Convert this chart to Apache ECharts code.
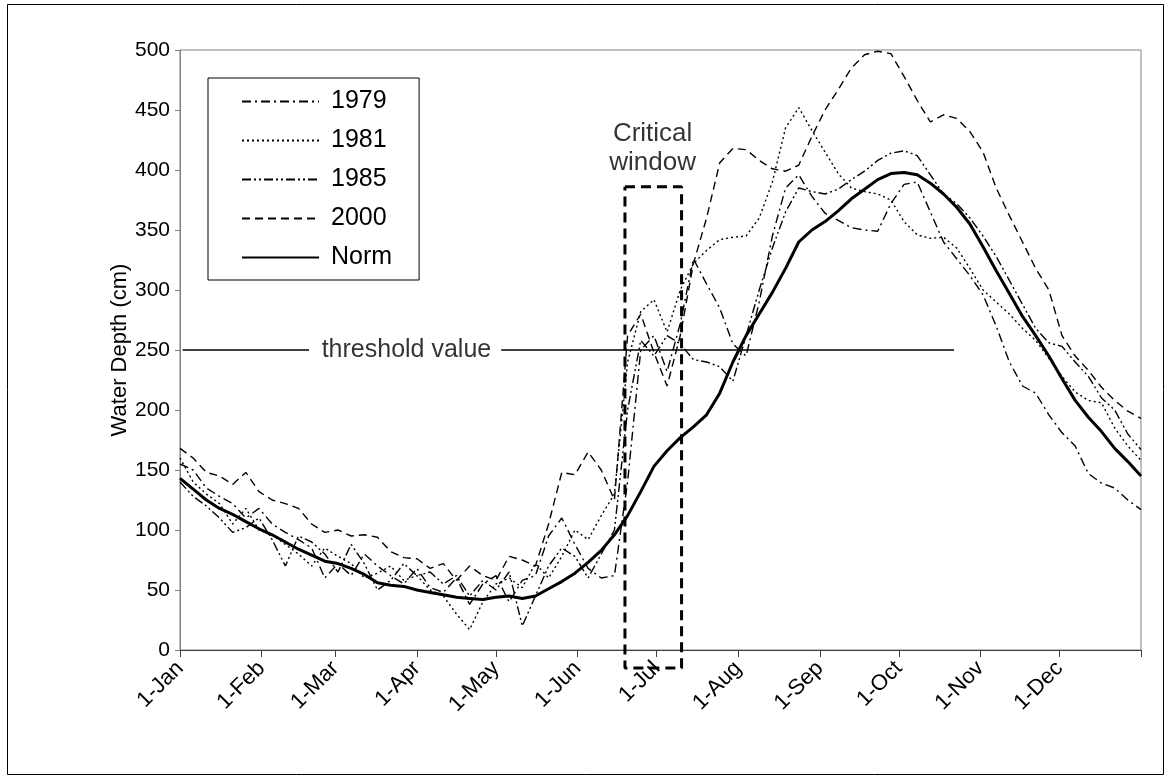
<!DOCTYPE html>
<html>
<head>
<meta charset="utf-8">
<title>Water Depth</title>
<script src="https://cdn.jsdelivr.net/npm/echarts@6/dist/echarts.min.js"></script>
<style>
  html, body { margin: 0; padding: 0; background: #fff; }
  #main { width: 1171px; height: 780px; }
</style>
</head>
<body>
<div id="main"></div>
<script type="text/javascript">
// day of year (0 = 1 Jan), every 5 days
var days = [0,5,10,15,20,25,30,35,40,45,50,55,60,65,70,75,80,85,90,95,100,105,110,115,120,125,130,135,140,145,150,155,160,165,170,175,180,185,190,195,200,205,210,215,220,225,230,235,240,245,250,255,260,265,270,275,280,285,290,295,300,305,310,315,320,325,330,335,340,345,350,355,360,365];

// water depth (cm)
var depth1979 = [155,150,135,128,122,110,118,105,98,92,85,60,72,62,80,70,62,55,68,52,48,60,38,55,62,40,58,62,95,110,88,68,60,62,140,250,262,232,272,326,305,285,255,245,290,345,385,396,378,364,358,352,350,349,372,388,390,365,340,326,312,296,270,240,220,214,196,181,170,147,139,135,125,117];
var depth1981 = [160,140,130,122,105,118,100,96,88,80,70,85,78,72,60,64,70,58,62,50,45,30,17,40,55,60,52,72,60,78,100,92,112,130,240,282,292,265,300,322,333,342,344,345,360,390,435,452,433,415,397,385,382,380,375,357,346,343,344,335,318,300,290,280,268,258,243,228,215,208,206,185,170,158];
var depth1985 = [140,128,120,110,98,102,110,92,70,95,90,80,65,88,72,50,58,72,62,65,55,62,45,58,50,65,20,45,70,85,78,60,80,100,200,258,245,262,255,242,240,236,224,262,300,335,365,385,382,380,384,392,399,408,414,416,412,396,380,372,360,345,328,308,288,268,256,253,240,228,210,200,180,167];
var depth2000 = [168,160,148,145,138,148,132,125,122,118,105,98,100,95,96,94,82,77,76,68,72,58,70,62,58,78,75,70,105,148,146,165,150,125,262,280,248,220,262,322,360,406,418,417,408,401,399,404,428,450,467,485,496,499,497,478,458,440,446,443,432,415,385,362,340,318,300,262,245,233,219,208,199,193];
var depthNorm = [143,134,125,118,113,107,101,96,90,84,79,74,72,68,63,56,54,53,50,48,46,44,43,42,44,45,43,45,51,57,64,73,83,96,112,132,153,166,177,186,196,214,240,262,280,298,318,340,350,357,366,376,384,392,397,398,396,389,380,369,355,336,316,297,278,262,245,226,208,194,182,168,157,145];

// month starts for the x axis
var monthStarts = [0,31,59,90,120,151,181,212,243,273,304,334,365];
var monthLabels = ['1-Jan','1-Feb','1-Mar','1-Apr','1-May','1-Jun','1-Jul','1-Aug','1-Sep','1-Oct','1-Nov','1-Dec',''];

// threshold line (gap where the label sits)
var thresholdDays = [1, 49, 85, 122, 294];
var thresholdDepth = [250, 250, null, 250, 250];
var thresholdLabelAt = [86, 250];

// critical window box
var windowDays = [169, 190.5, 190.5, 169, 169];
var windowDepth = [386, 386, -15, -15, 386];
var windowLabelAt = [179.5, 418];

var FONT = "'Liberation Sans', Arial, sans-serif";

function pairs(xs, ys) {
  return xs.map(function (x, i) { return [x, ys[i]]; });
}

function yearSeries(name, values, dash, width) {
  return {
    name: name,
    type: 'line',
    data: pairs(days, values),
    showSymbol: false,
    symbol: 'none',
    lineStyle: { color: '#000', width: width, type: dash },
    itemStyle: { color: '#000' },
    silent: true,
    z: 3
  };
}

var myChart = echarts.init(document.getElementById('main'));

var option = {
  backgroundColor: '#fff',
  animation: false,
  textStyle: { fontFamily: FONT, color: '#000' },
  graphic: [{
    type: 'rect',
    shape: { x: 7.5, y: 4.5, width: 1156, height: 770 },
    style: { fill: null, stroke: '#000', lineWidth: 1 },
    silent: true
  }],
  grid: {
    left: 180, right: 30, top: 50, bottom: 130,
    show: true, borderColor: '#808080', borderWidth: 1
  },
  legend: {
    orient: 'vertical',
    left: 208, top: 78,
    data: ['1979', '1981', '1985', '2000', 'Norm'],
    itemWidth: 77, itemHeight: 20, itemGap: 14,
    padding: [11, 27, 10, 33],
    borderColor: '#000', borderWidth: 1,
    backgroundColor: '#fff',
    itemStyle: { opacity: 0 },
    textStyle: { fontSize: 25, color: '#000', fontFamily: FONT, padding: [0, 0, 0, 7] },
    selectedMode: false
  },
  xAxis: {
    type: 'value',
    min: 0, max: 365,
    splitLine: { show: false },
    axisLine: { show: true, lineStyle: { color: '#404040', width: 1 } },
    axisTick: {
      show: true, length: 7, inside: false,
      customValues: monthStarts,
      lineStyle: { color: '#404040' }
    },
    axisLabel: {
      customValues: monthStarts.slice(0, 12),
      rotate: 45, margin: 15,
      fontSize: 22, color: '#000', fontFamily: FONT,
      formatter: function (v) {
        var i = monthStarts.indexOf(v);
        return i >= 0 ? monthLabels[i] : '';
      }
    }
  },
  yAxis: {
    type: 'value',
    min: 0, max: 500, interval: 50,
    name: 'Water Depth (cm)',
    nameLocation: 'middle',
    nameGap: 49,
    nameMoveOverlap: false,
    nameTextStyle: { fontSize: 22, color: '#000', fontFamily: FONT },
    splitLine: { show: false },
    axisLine: { show: true, lineStyle: { color: '#808080' } },
    axisTick: { show: true, length: 5, lineStyle: { color: '#808080' } },
    axisLabel: { fontSize: 21, color: '#000', margin: 10, fontFamily: FONT }
  },
  series: [
    yearSeries('1979', depth1979, [9, 4, 2, 4], 1.4),
    yearSeries('1981', depth1981, [2, 3], 1.4),
    yearSeries('1985', depth1985, [9, 3, 2, 3, 2, 3], 1.4),
    yearSeries('2000', depth2000, [8, 5], 1.4),
    {
      name: 'Norm',
      type: 'line',
      data: pairs(days, depthNorm),
      showSymbol: false,
      symbol: 'none',
      lineStyle: { color: '#000', width: 3 },
      itemStyle: { color: '#000' },
      silent: true,
      z: 4
    },
    {
      name: 'threshold',
      type: 'line',
      data: pairs(thresholdDays, thresholdDepth),
      showSymbol: false,
      symbol: 'none',
      connectNulls: false,
      lineStyle: { color: '#000', width: 1.5 },
      silent: true,
      z: 2
    },
    {
      name: 'thresholdLabel',
      type: 'scatter',
      data: [thresholdLabelAt],
      symbolSize: 0,
      silent: true,
      label: {
        show: true, position: 'inside', formatter: 'threshold value',
        fontSize: 25, color: '#000', fontFamily: FONT
      }
    },
    {
      name: 'window',
      type: 'line',
      data: pairs(windowDays, windowDepth),
      showSymbol: false,
      symbol: 'none',
      clip: false,
      lineStyle: { color: '#000', width: 3, type: [10, 6] },
      silent: true,
      z: 5
    },
    {
      name: 'windowLabel',
      type: 'scatter',
      data: [windowLabelAt],
      symbolSize: 0,
      silent: true,
      label: {
        show: true, position: 'inside', formatter: 'Critical\nwindow',
        fontSize: 26, lineHeight: 29, color: '#000', fontFamily: FONT
      }
    }
  ]
};

myChart.setOption(option);
</script>
</body>
</html>
